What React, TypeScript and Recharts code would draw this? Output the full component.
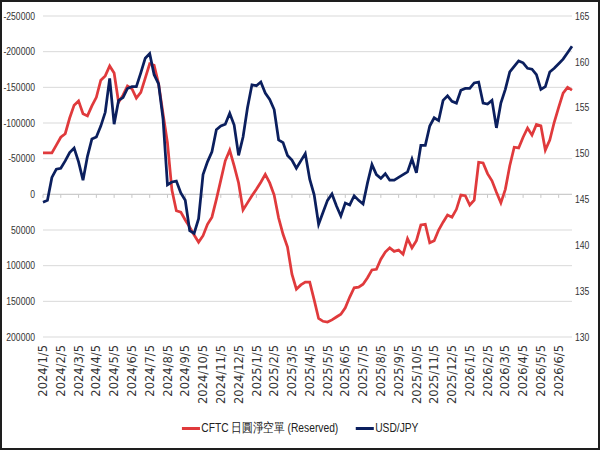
import React from "react";
import {
  LineChart,
  Line,
  XAxis,
  YAxis,
  CartesianGrid,
  Legend,
  ReferenceLine,
} from "recharts";

// tick labels, one every 4 weeks
const monthLabels = [
  "2024/1/5", "2024/2/5", "2024/3/5", "2024/4/5", "2024/5/5", "2024/6/5",
  "2024/7/5", "2024/8/5", "2024/9/5", "2024/10/5", "2024/11/5", "2024/12/5",
  "2025/1/5", "2025/2/5", "2025/3/5", "2025/4/5", "2025/5/5", "2025/6/5",
  "2025/7/5", "2025/8/5", "2025/9/5", "2025/10/5", "2025/11/5", "2025/12/5",
  "2026/1/5", "2026/2/5", "2026/3/5", "2026/4/5", "2026/5/5", "2026/6/5",
];

// CFTC yen net short (contracts), weekly
const cftcNetShort = [
  -58000, -58000, -58000, -69000, -80000, -85000, -107000, -125000, -131000, -113000,
  -110000, -124000, -136000, -160000, -166000, -180000, -170000, -129000, -139000, -152000,
  -148000, -135000, -143000, -163000, -183000, -181000, -155000, -113000, -72000, -6000,
  23000, 25000, 36000, 46000, 57000, 67000, 58000, 42000, 32000, 7000,
  -20000, -47000, -62000, -40000, -16000, 22000, 12000, 2000, -7000, -17000,
  -28000, -16000, 1000, 33000, 56000, 74000, 112000, 133000, 127000, 123000,
  123000, 148000, 174000, 178000, 179000, 176000, 172000, 168000, 159000, 144000,
  131000, 130000, 126000, 117000, 106000, 105000, 91000, 81000, 75000, 80000,
  78000, 84000, 62000, 75000, 65000, 43000, 42000, 68000, 65000, 50000,
  39000, 29000, 32000, 21000, 1000, 2000, 15000, 8000, -45000, -44000,
  -29000, -19000, -3000, 12000, -7000, -40000, -66000, -65000, -80000, -93000,
  -83000, -98000, -96000, -62000, -76000, -101000, -122000, -142000, -150000, -146000,
];

// USD/JPY, weekly
const usdJpy = [
  144.7, 144.9, 147.4, 148.3, 148.4, 149.2, 150.1, 150.6, 149.1, 147.1,
  149.7, 151.6, 151.8, 153.0, 154.5, 158.2, 153.2, 155.8, 156.1, 157.1,
  157.3, 157.3, 158.8, 160.4, 160.9, 158.6, 157.6, 153.8, 146.6, 146.9,
  147.0, 145.7, 144.9, 141.6, 141.3, 142.9, 147.7, 149.1, 150.2, 152.6,
  153.0, 153.2, 154.4, 153.1, 149.8, 151.8, 155.0, 157.5, 157.4, 157.8,
  156.6, 155.9, 154.8, 151.5, 151.2, 149.8, 149.3, 148.4, 149.2, 150.0,
  147.2, 145.5, 142.3, 143.6, 144.9, 145.6, 144.3, 143.2, 144.6, 144.4,
  145.4, 144.9, 144.5, 146.8, 148.8, 147.7, 147.3, 147.8, 147.1, 147.1,
  147.4, 147.7, 148.0, 149.4, 147.9, 150.9, 150.9, 153.0, 153.9, 153.6,
  155.8, 156.3, 155.7, 155.5, 156.9, 157.1, 157.1, 157.7, 157.8, 155.5,
  155.4, 155.8, 152.8, 155.5, 157.0, 158.9, 159.5, 160.1, 159.9, 159.3,
  159.2, 158.6, 157.0, 157.3, 158.9, 159.3, 159.8, 160.3, 161.0, 161.7,
];

const leftTicks = [-250000, -200000, -150000, -100000, -50000, 0, 50000, 100000, 150000, 200000];
const rightTicks = [130, 135, 140, 145, 150, 155, 160, 165];

const RED = "#e03a3c";
const NAVY = "#0b1f5e";
const SANS = '"Liberation Sans", Arial, sans-serif';

const data = cftcNetShort.map((v, i) => ({ week: i, cftc: v, usdjpy: usdJpy[i] }));
const monthTicks = monthLabels.map((_, m) => m * 4);

function MonthTick({ x, y, payload }: any) {
  return (
    <text
      x={x}
      y={y}
      transform={`rotate(-90 ${x} ${y})`}
      textAnchor="end"
      dy="0.36em"
      fill="#333"
      fontSize={11.5}
      fontFamily="DejaVu Sans, sans-serif"
    >
      {monthLabels[payload.value / 4]}
    </text>
  );
}

// narrow-looking value labels (Arial Narrow style)
function ValueTick({ x, y, payload, anchor, size }: any) {
  return (
    <text
      transform={`translate(${x},${y}) scale(0.82,1)`}
      textAnchor={anchor}
      dy="0.35em"
      fill="#333"
      fontSize={size}
      fontFamily={SANS}
    >
      {payload.value}
    </text>
  );
}

function LegendRow({ payload }: any) {
  return (
    <div
      style={{
        display: "flex",
        justifyContent: "center",
        alignItems: "center",
        gap: 21,
        height: 18,
        fontFamily: SANS,
        fontSize: 12.5,
        color: "#222",
        transform: "scaleX(0.82)",
      }}
    >
      {(payload || []).map((p: any) => (
        <span key={p.value} style={{ display: "flex", alignItems: "center" }}>
          <span
            style={{ width: 22, height: 3, background: p.color, marginRight: 2 }}
          />
          {p.value}
        </span>
      ))}
    </div>
  );
}

export default function App() {
  return (
    <div
      style={{
        position: "fixed",
        left: 0,
        top: 0,
        width: 600,
        height: 450,
        background: "#fff",
      }}
    >
      <LineChart
        width={600}
        height={450}
        data={data}
        margin={{ top: 16, right: 0, bottom: 0, left: 0 }}
      >
        <CartesianGrid yAxisId="left" vertical={false} stroke="#d9d9d9" />
        <XAxis
          dataKey="week"
          type="number"
          domain={[0, 119]}
          ticks={monthTicks}
          interval={0}
          height={113}
          axisLine={false}
          tickLine={false}
          tick={<MonthTick />}
        />
        <YAxis
          yAxisId="left"
          reversed
          domain={[-250000, 200000]}
          ticks={leftTicks}
          interval={0}
          width={43}
          axisLine={false}
          tickLine={false}
          tick={<ValueTick anchor="end" size={10.5} />}
        />
        <YAxis
          yAxisId="right"
          orientation="right"
          domain={[130, 165]}
          ticks={rightTicks}
          interval={0}
          width={28}
          tickSize={1}
          axisLine={false}
          tickLine={false}
          tick={<ValueTick anchor="start" size={10.5} />}
        />
        <ReferenceLine yAxisId="left" y={0} stroke="#c8c8c8" />
        {monthTicks.map((t) => (
          <ReferenceLine
            key={t}
            yAxisId="left"
            segment={[
              { x: t, y: 0 },
              { x: t, y: 5000 },
            ]}
            stroke="#c8c8c8"
          />
        ))}
        <Line
          yAxisId="left"
          type="linear"
          dataKey="cftc"
          name="CFTC 日圓淨空單 (Reserved)"
          stroke={RED}
          strokeWidth={2.75}
          dot={false}
          isAnimationActive={false}
        />
        <Line
          yAxisId="right"
          type="linear"
          dataKey="usdjpy"
          name="USD/JPY"
          stroke={NAVY}
          strokeWidth={2.75}
          dot={false}
          isAnimationActive={false}
        />
        <Legend
          layout="horizontal"
          verticalAlign="middle"
          align="center"
          wrapperStyle={{ top: 419, left: 0, width: 600 }}
          content={<LegendRow />}
        />
      </LineChart>
      <div
        style={{
          position: "absolute",
          inset: 0,
          border: "2px solid #1e1e1e",
          pointerEvents: "none",
        }}
      />
    </div>
  );
}
